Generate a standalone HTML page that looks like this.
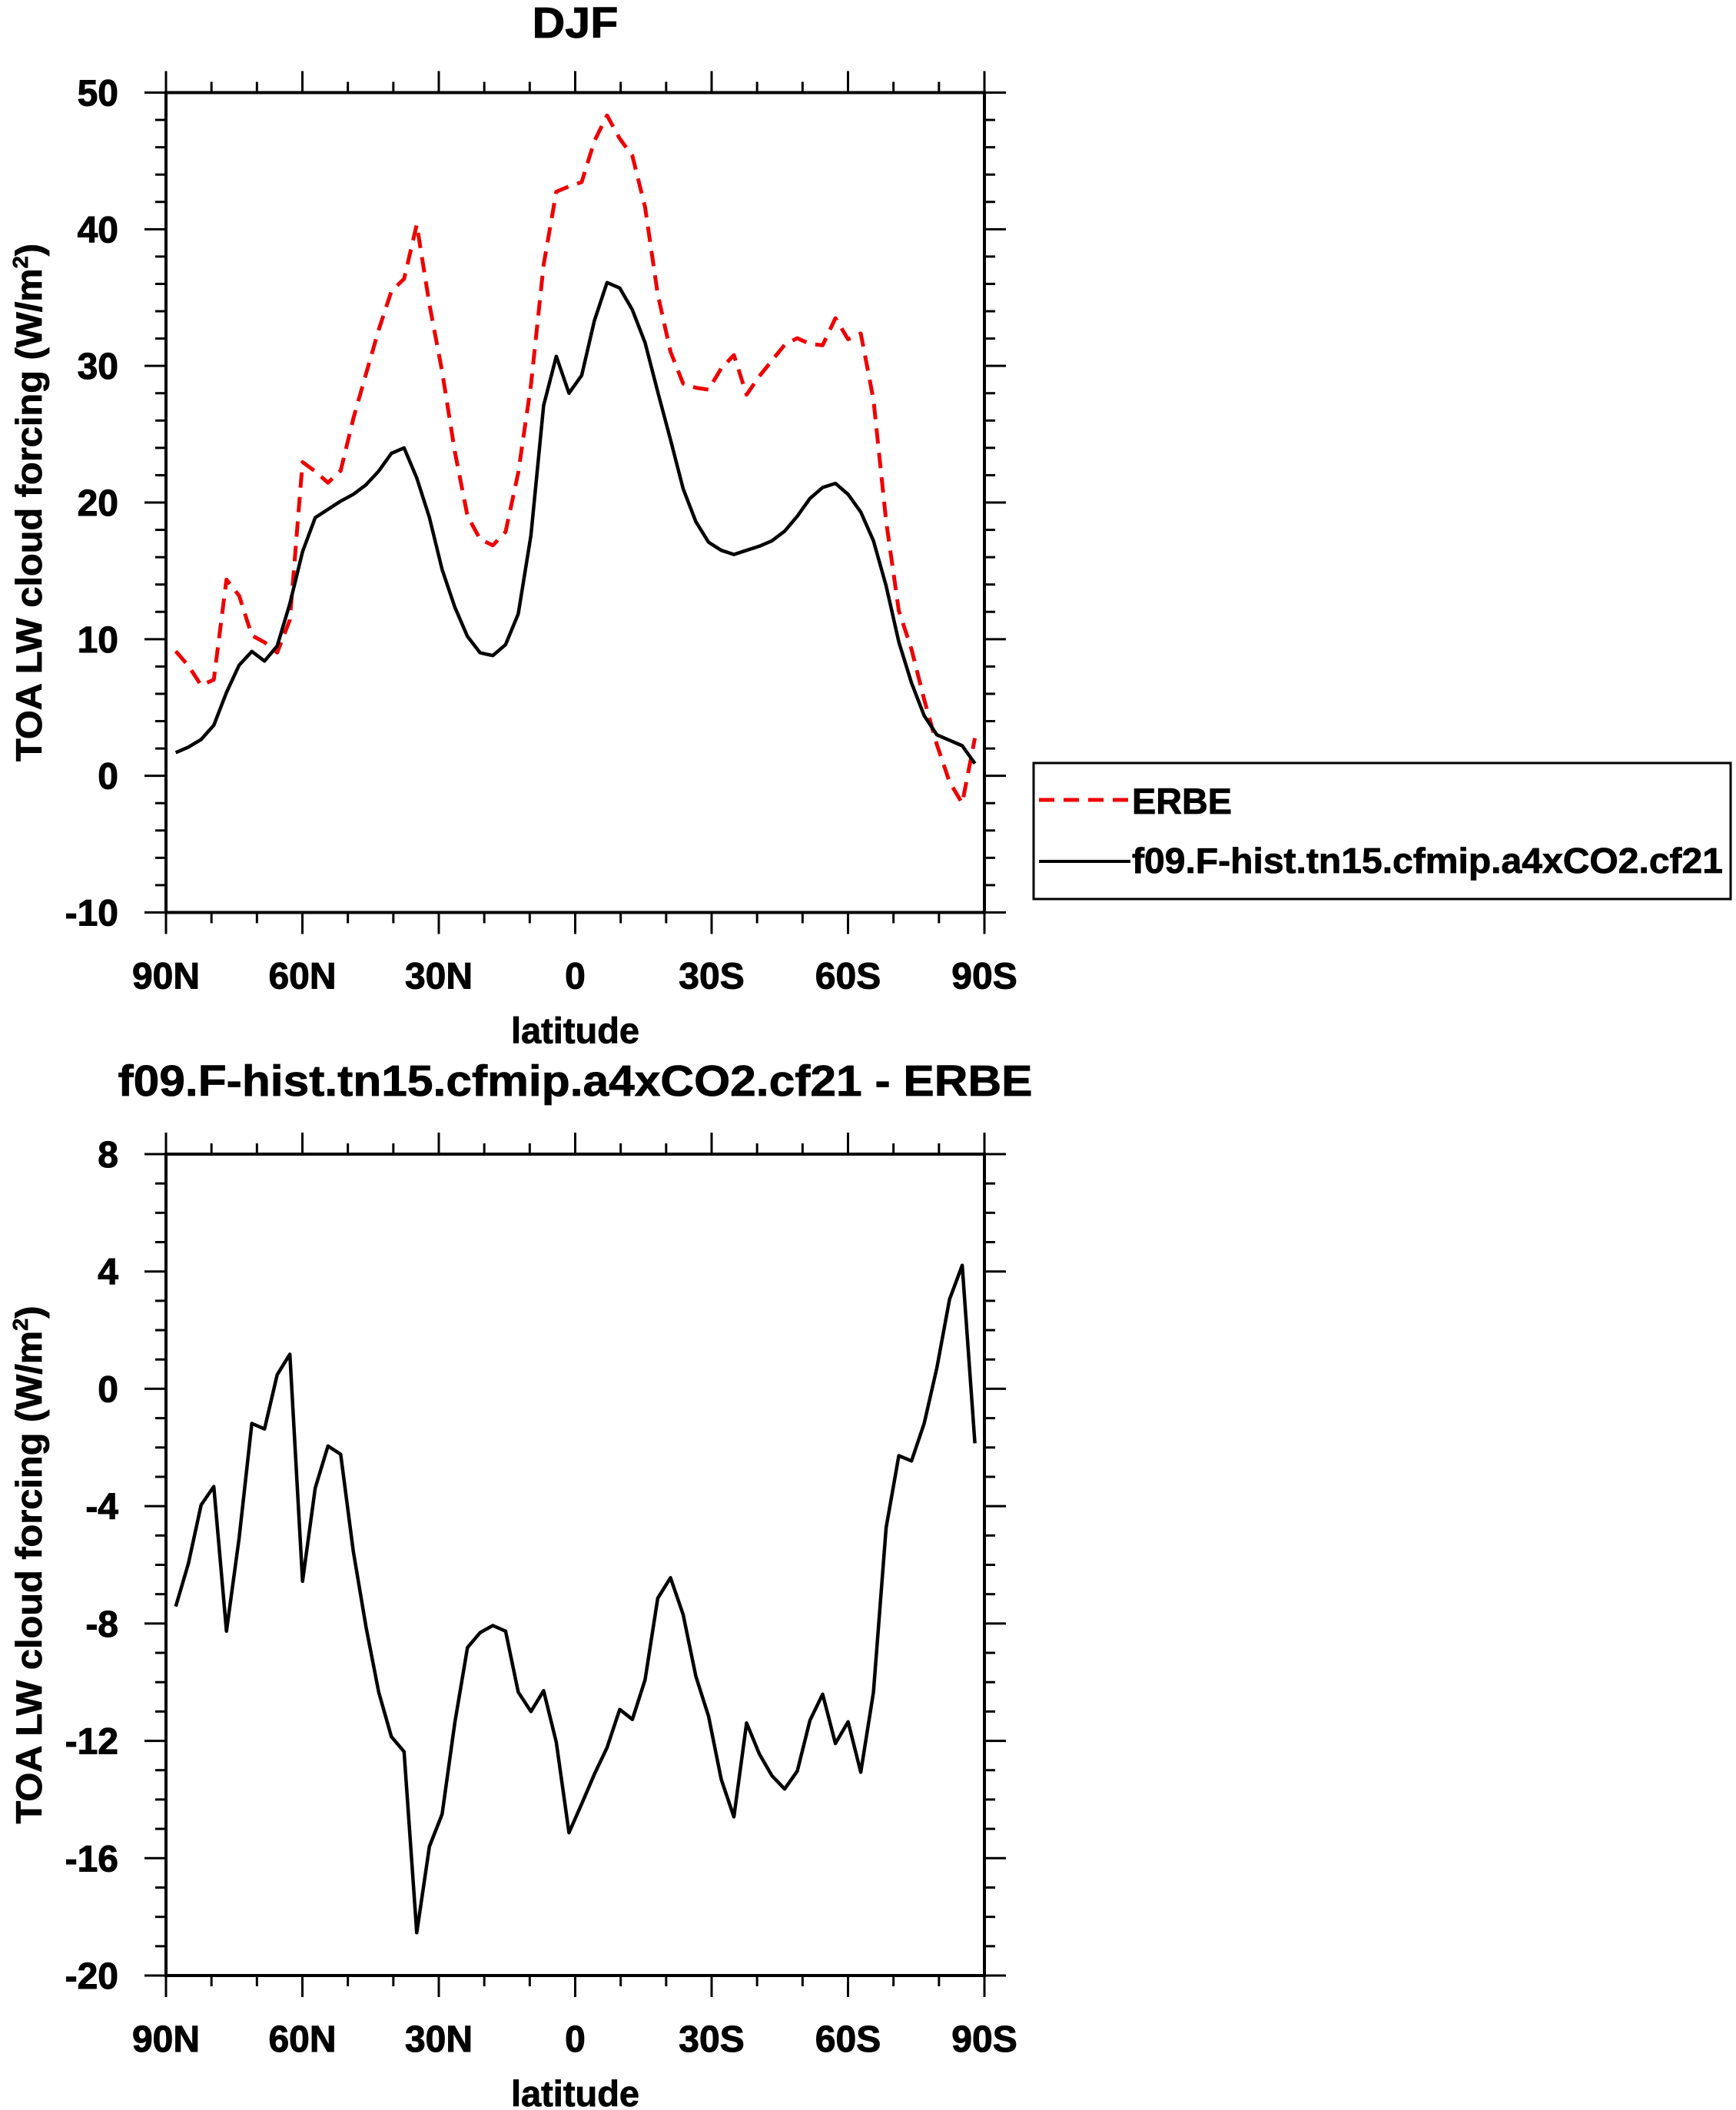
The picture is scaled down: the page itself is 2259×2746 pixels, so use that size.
<!DOCTYPE html>
<html><head><meta charset="utf-8"><style>
html,body{margin:0;padding:0;background:#fff;}
svg{display:block;font-family:"Liberation Sans",Arial,sans-serif;font-weight:bold;}
</style></head><body>
<svg id="chart" width="2259" height="2746" viewBox="0 0 2259 2746" xmlns="http://www.w3.org/2000/svg">
<g id="p1"></g>
<g id="p2"></g>
<g id="legend">
<rect x="1345" y="993" width="907" height="177" fill="none" stroke="#000" stroke-width="3"/>
<line x1="1352" y1="1041" x2="1471" y2="1041" stroke="#e00" stroke-width="5" stroke-dasharray="20,12"/>
<text x="1473" y="1059" font-size="47" textLength="130" lengthAdjust="spacingAndGlyphs" stroke="#000" stroke-width="0.8">ERBE</text>
<line x1="1352" y1="1121" x2="1471" y2="1121" stroke="#000" stroke-width="4"/>
<text x="1473" y="1136" font-size="46" textLength="769" lengthAdjust="spacingAndGlyphs" stroke="#000" stroke-width="0.8">f09.F-hist.tn15.cfmip.a4xCO2.cf21</text>
</g>
</svg>
<script>
const lat0 = 87.86;
const dlat = 2.79;
const modelVals = [1.7,2.1,2.66,3.7,6.1,8.1,9.1,8.4,9.5,12.6,16.4,18.9,19.5,20.1,20.6,21.3,22.3,23.6,24.0,21.8,18.9,15.1,12.35,10.2,9.0,8.8,9.6,11.85,17.6,27.1,30.7,28.0,29.3,33.3,36.1,35.7,34.1,31.7,28.1,24.6,21.0,18.6,17.1,16.5,16.2,16.5,16.8,17.2,17.9,19.0,20.3,21.1,21.4,20.6,19.3,17.2,13.9,9.8,6.8,4.4,3.0,2.6,2.2,0.9];
const erbeVals = [9.12,8.05,6.62,7.03,14.36,13.18,10.28,9.77,9.02,11.42,22.96,22.28,21.45,22.33,26.15,29.42,32.64,35.46,36.37,40.34,34.5,29.6,23.74,19.02,17.31,16.87,17.86,22.19,28.6,37.39,42.75,43.13,43.45,46.44,48.33,46.63,45.37,41.62,35.24,31.04,28.7,28.4,28.26,29.81,30.79,27.89,29.24,30.39,31.54,32.03,31.6,31.51,33.49,31.95,32.37,27.54,18.63,12.08,9.26,5.58,2.29,-0.45,-2.01,2.76];
const diffVals = [-7.42,-5.95,-3.96,-3.33,-8.26,-5.08,-1.18,-1.37,0.48,1.18,-6.56,-3.38,-1.95,-2.23,-5.55,-8.12,-10.34,-11.86,-12.37,-18.54,-15.6,-14.5,-11.39,-8.82,-8.31,-8.07,-8.26,-10.34,-11.0,-10.29,-12.05,-15.13,-14.15,-13.14,-12.23,-10.93,-11.27,-9.92,-7.14,-6.44,-7.7,-9.8,-11.16,-13.31,-14.59,-11.39,-12.44,-13.19,-13.64,-13.03,-11.3,-10.41,-12.09,-11.35,-13.07,-10.34,-4.73,-2.28,-2.46,-1.18,0.71,3.05,4.21,-1.86];
const xTickVals = [90,60,30,0,-30,-60,-90];
const xTickLabels = ["90N","60N","30N","0","30S","60S","90S"];
const y1Ticks = [-10,0,10,20,30,40,50];
const y2Ticks = [-20,-16,-12,-8,-4,0,4,8];

const NS = "http://www.w3.org/2000/svg";
function mk(parent, tag, attrs, text){
  const e = document.createElementNS(NS, tag);
  for (const k in attrs) e.setAttribute(k, attrs[k]);
  if (text !== undefined) e.textContent = text;
  parent.appendChild(e);
  return e;
}
const L = 216, R = 1281;
function xs(lat){ return L + (90 - lat) / 180 * (R - L); }

function panel(g, top, bottom, ymin, ymax, yTicks, yMinorStep, title, titleLen, titleY, series){
  const ys = v => bottom - (v - ymin) / (ymax - ymin) * (bottom - top);
  const fr = mk(g, 'rect', {x:L, y:top, width:R-L, height:bottom-top, fill:'none', stroke:'#000', 'stroke-width':4});
  
  
  for (let v = ymin; v <= ymax + 1e-9; v += yMinorStep){
    const y = ys(v);
    const major = yTicks.some(t => Math.abs(t - v) < 1e-9);
    const len = major ? 28 : 14;
    const t1 = mk(g, 'line', {x1:L-len, y1:y, x2:L, y2:y, stroke:'#000', 'stroke-width':3});
    
    
    const t2 = mk(g, 'line', {x1:R, y1:y, x2:R+len, y2:y, stroke:'#000', 'stroke-width':3});
    
    
  }
  yTicks.forEach(v => {
    const t = mk(g, 'text', {x:154, y:ys(v)+17, 'font-size':48, 'text-anchor':'end', stroke:'#000', 'stroke-width':1}, String(v));
    
    
  });
  for (let lat = 90; lat >= -90; lat -= 10){
    const x = xs(lat);
    const major = lat % 30 === 0;
    const len = major ? 28 : 14;
    const a = mk(g, 'line', {x1:x, y1:bottom, x2:x, y2:bottom+len, stroke:'#000', 'stroke-width':3});
    
    
    const b = mk(g, 'line', {x1:x, y1:top-len, x2:x, y2:top, stroke:'#000', 'stroke-width':3});
    
    
  }
  xTickVals.forEach((v, i) => {
    const t = mk(g, 'text', {x:xs(v), y:bottom+99, 'font-size':48, 'text-anchor':'middle', stroke:'#000', 'stroke-width':1}, xTickLabels[i]);
    
    
  });
  const xt = mk(g, 'text', {x:(L+R)/2, y:bottom+170, 'font-size':47, 'text-anchor':'middle', stroke:'#000', 'stroke-width':0.8}, 'latitude');
  
  
  const cy = (top+bottom)/2;
  const yt = mk(g, 'text', {x:0, y:0, 'font-size':47, 'text-anchor':'middle', transform:`translate(54,${cy}) rotate(-90)`, textLength:674, lengthAdjust:'spacingAndGlyphs', stroke:'#000', 'stroke-width':0.8});
  
  
  yt.appendChild(document.createTextNode('TOA LW cloud forcing (W/m'));
  mk(yt, 'tspan', {'font-size':28, dy:-18}, '2');
  mk(yt, 'tspan', {dy:18}, ')');
  const tt = mk(g, 'text', {x:(L+R)/2, y:titleY, 'font-size':57, 'text-anchor':'middle', textLength:titleLen, lengthAdjust:'spacingAndGlyphs', stroke:'#000', 'stroke-width':0.8}, title);
  
  
  series.forEach(s => {
    const pts = s.vals.map((v, i) => xs(lat0 - i*dlat).toFixed(1) + ',' + ys(v).toFixed(1)).join(' ');
    const pl = mk(g, 'polyline', {points:pts, fill:'none', stroke:s.color, 'stroke-width':s.w, 'stroke-dasharray':s.dash||'none', 'stroke-linejoin':'round'});
    
    
  });
}
panel(document.getElementById('p1'), 120.5, 1187.5, -10, 50, y1Ticks, 2, 'DJF', 112, 49, [
  {vals: erbeVals, color:'#e00', w:5, dash:'20,12', name:'erbe-line'},
  {vals: modelVals, color:'#000', w:4.5, name:'model-line'}
]);
panel(document.getElementById('p2'), 1502, 2571, -20, 8, y2Ticks, 1, 'f09.F-hist.tn15.cfmip.a4xCO2.cf21 - ERBE', 1190, 1426, [
  {vals: diffVals, color:'#000', w:4.5, name:'difference-line'}
]);
</script>
</body></html>
